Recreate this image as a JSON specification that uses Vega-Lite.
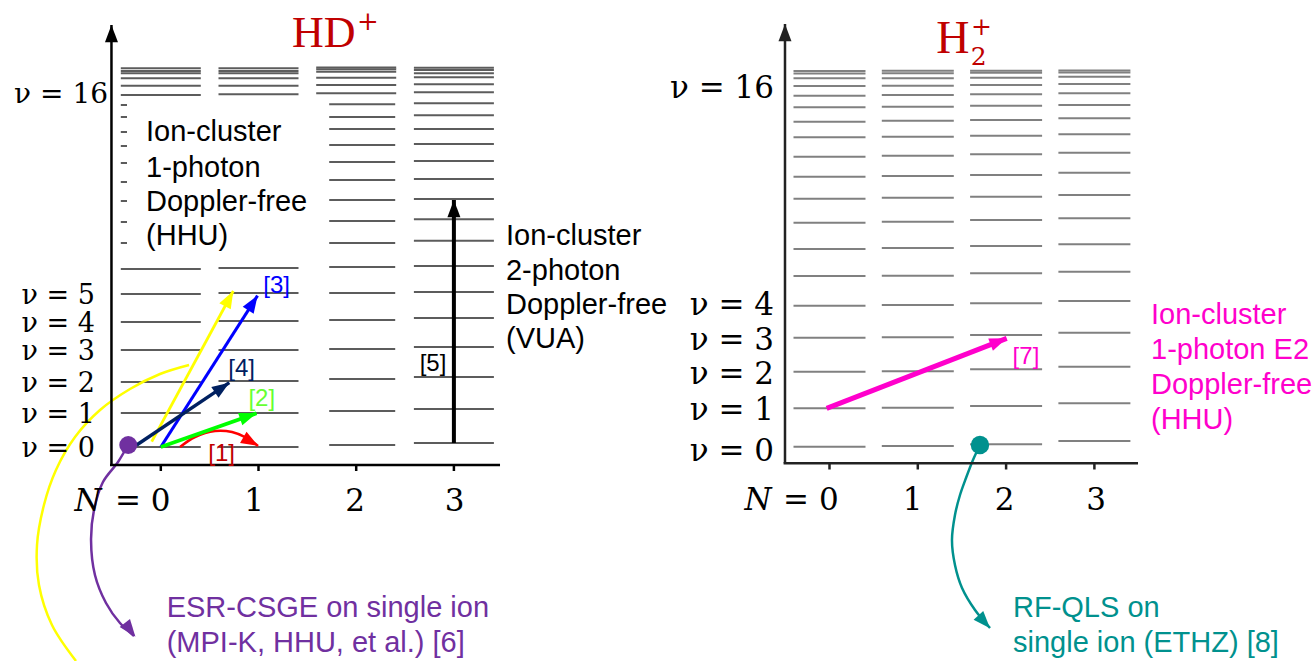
{
"$schema": "https://vega.github.io/schema/vega-lite/v6.json",
"background": "white",
"padding": 0,
"spacing": 0,
"bounds": "flush",
"config": {"view": {"stroke": null}, "axis": {"disable": true}},
"datasets": {
"hd_levels": [
{"N":0,"v":0,"E":0},{"N":0,"v":1,"E":3.4},{"N":0,"v":2,"E":6.5},{"N":0,"v":3,"E":9.7},{"N":0,"v":4,"E":12.5},{"N":0,"v":5,"E":15.3},{"N":0,"v":6,"E":17.8},{"N":0,"v":7,"E":20.4},{"N":0,"v":8,"E":22.5},{"N":0,"v":9,"E":24.6},{"N":0,"v":10,"E":26.5},{"N":0,"v":11,"E":28.4},{"N":0,"v":12,"E":30.1},{"N":0,"v":13,"E":31.5},{"N":0,"v":14,"E":33.0},{"N":0,"v":15,"E":34.2},{"N":0,"v":16,"E":35.2},{"N":0,"v":17,"E":36.13},{"N":0,"v":18,"E":36.87},{"N":0,"v":19,"E":37.37},{"N":0,"v":20,"E":37.6},{"N":0,"v":21,"E":37.87},
{"N":1,"v":0,"E":0},{"N":1,"v":1,"E":3.4},{"N":1,"v":2,"E":6.6},{"N":1,"v":3,"E":9.7},{"N":1,"v":4,"E":12.6},{"N":1,"v":5,"E":15.4},{"N":1,"v":6,"E":17.9},{"N":1,"v":7,"E":20.5},{"N":1,"v":8,"E":22.6},{"N":1,"v":9,"E":24.7},{"N":1,"v":10,"E":26.6},{"N":1,"v":11,"E":28.5},{"N":1,"v":12,"E":30.2},{"N":1,"v":13,"E":31.6},{"N":1,"v":14,"E":33.1},{"N":1,"v":15,"E":34.3},{"N":1,"v":16,"E":35.27},{"N":1,"v":17,"E":36.13},{"N":1,"v":18,"E":36.87},{"N":1,"v":19,"E":37.37},{"N":1,"v":20,"E":37.6},{"N":1,"v":21,"E":37.87},
{"N":2,"v":0,"E":0.2},{"N":2,"v":1,"E":3.6},{"N":2,"v":2,"E":6.8},{"N":2,"v":3,"E":9.8},{"N":2,"v":4,"E":12.7},{"N":2,"v":5,"E":15.4},{"N":2,"v":6,"E":18.0},{"N":2,"v":7,"E":20.4},{"N":2,"v":8,"E":22.6},{"N":2,"v":9,"E":24.7},{"N":2,"v":10,"E":26.7},{"N":2,"v":11,"E":28.5},{"N":2,"v":12,"E":30.2},{"N":2,"v":13,"E":31.8},{"N":2,"v":14,"E":33.0},{"N":2,"v":15,"E":34.27},{"N":2,"v":16,"E":35.37},{"N":2,"v":17,"E":36.2},{"N":2,"v":18,"E":36.93},{"N":2,"v":19,"E":37.53},{"N":2,"v":20,"E":37.77},{"N":2,"v":21,"E":37.95},
{"N":3,"v":0,"E":0.4},{"N":3,"v":1,"E":3.8},{"N":3,"v":2,"E":7.0},{"N":3,"v":3,"E":10.0},{"N":3,"v":4,"E":12.9},{"N":3,"v":5,"E":15.5},{"N":3,"v":6,"E":18.1},{"N":3,"v":7,"E":20.63},{"N":3,"v":8,"E":22.77},{"N":3,"v":9,"E":24.8},{"N":3,"v":10,"E":26.8},{"N":3,"v":11,"E":28.6},{"N":3,"v":12,"E":30.3},{"N":3,"v":13,"E":31.8},{"N":3,"v":14,"E":33.17},{"N":3,"v":15,"E":34.37},{"N":3,"v":16,"E":35.47},{"N":3,"v":17,"E":36.27},{"N":3,"v":18,"E":36.97},{"N":3,"v":19,"E":37.37},{"N":3,"v":20,"E":37.7},{"N":3,"v":21,"E":37.93}
],
"h2_levels": [
{"N":0,"v":0,"E":0.03},{"N":0,"v":1,"E":3.87},{"N":0,"v":2,"E":7.53},{"N":0,"v":3,"E":10.93},{"N":0,"v":4,"E":14.13},{"N":0,"v":5,"E":17.1},{"N":0,"v":6,"E":19.8},{"N":0,"v":7,"E":22.43},{"N":0,"v":8,"E":24.83},{"N":0,"v":9,"E":27.03},{"N":0,"v":10,"E":29.03},{"N":0,"v":11,"E":30.97},{"N":0,"v":12,"E":32.53},{"N":0,"v":13,"E":33.97},{"N":0,"v":14,"E":35.13},{"N":0,"v":15,"E":36.1},{"N":0,"v":16,"E":36.87},{"N":0,"v":17,"E":37.35},{"N":0,"v":18,"E":37.6},
{"N":1,"v":0,"E":0.1},{"N":1,"v":1,"E":3.93},{"N":1,"v":2,"E":7.57},{"N":1,"v":3,"E":10.97},{"N":1,"v":4,"E":14.2},{"N":1,"v":5,"E":17.13},{"N":1,"v":6,"E":19.9},{"N":1,"v":7,"E":22.53},{"N":1,"v":8,"E":24.93},{"N":1,"v":9,"E":27.1},{"N":1,"v":10,"E":29.13},{"N":1,"v":11,"E":31.03},{"N":1,"v":12,"E":32.63},{"N":1,"v":13,"E":34.03},{"N":1,"v":14,"E":35.2},{"N":1,"v":15,"E":36.13},{"N":1,"v":16,"E":36.87},{"N":1,"v":17,"E":37.37},{"N":1,"v":18,"E":37.63},
{"N":2,"v":0,"E":0.27},{"N":2,"v":1,"E":4.1},{"N":2,"v":2,"E":7.77},{"N":2,"v":3,"E":11.2},{"N":2,"v":4,"E":14.37},{"N":2,"v":5,"E":17.37},{"N":2,"v":6,"E":20.1},{"N":2,"v":7,"E":22.7},{"N":2,"v":8,"E":25.03},{"N":2,"v":9,"E":27.2},{"N":2,"v":10,"E":29.27},{"N":2,"v":11,"E":31.13},{"N":2,"v":12,"E":32.7},{"N":2,"v":13,"E":34.13},{"N":2,"v":14,"E":35.27},{"N":2,"v":15,"E":36.2},{"N":2,"v":16,"E":36.93},{"N":2,"v":17,"E":37.43},{"N":2,"v":18,"E":37.63},
{"N":3,"v":0,"E":0.6},{"N":3,"v":1,"E":4.37},{"N":3,"v":2,"E":8.03},{"N":3,"v":3,"E":11.43},{"N":3,"v":4,"E":14.6},{"N":3,"v":5,"E":17.53},{"N":3,"v":6,"E":20.27},{"N":3,"v":7,"E":22.87},{"N":3,"v":8,"E":25.2},{"N":3,"v":9,"E":27.43},{"N":3,"v":10,"E":29.43},{"N":3,"v":11,"E":31.27},{"N":3,"v":12,"E":32.87},{"N":3,"v":13,"E":34.2},{"N":3,"v":14,"E":35.37},{"N":3,"v":15,"E":36.3},{"N":3,"v":16,"E":37.03},{"N":3,"v":17,"E":37.45},{"N":3,"v":18,"E":37.65}
],
"hd_arrows": [
{"ref":"axis","x":-0.505,"y":-1.8,"x2":-0.505,"y2":42.2,"line":true,"head":true},
{"ref":"axis","x":-0.52,"y":-1.8,"x2":3.472,"y2":-1.8,"line":true,"head":false},
{"ref":"axis","x":0,"y":-1.8,"x2":0,"y2":-2.4,"line":true,"head":false},
{"ref":"axis","x":1,"y":-1.8,"x2":1,"y2":-2.4,"line":true,"head":false},
{"ref":"axis","x":2,"y":-1.8,"x2":2,"y2":-2.4,"line":true,"head":false},
{"ref":"axis","x":3,"y":-1.8,"x2":3,"y2":-2.4,"line":true,"head":false},
{"ref":"y","x":-0.093,"y":0.53,"x2":0.742,"y2":15.6,"line":true,"head":true},
{"ref":"3","x":0.0,"y":0.0,"x2":0.99,"y2":15.13,"line":true,"head":true},
{"ref":"4","x":-0.247,"y":0.2,"x2":0.701,"y2":6.43,"line":true,"head":true},
{"ref":"2","x":0.0,"y":0.0,"x2":0.98,"y2":3.37,"line":true,"head":true},
{"ref":"5","x":3.0,"y":0.4,"x2":3.0,"y2":24.7,"line":true,"head":true},
{"ref":"1","x":0.909,"y":0.6,"x2":0.998,"y2":0.1,"line":false,"head":true},
{"ref":"6","x":-0.368,"y":-17.6,"x2":-0.26,"y2":-18.97,"line":false,"head":true}
],
"hd_curves": [
{"ref":"1","o":0,"x":0.197,"y":0},{"ref":"1","o":1,"x":0.35,"y":1.0},{"ref":"1","o":2,"x":0.555,"y":1.6},{"ref":"1","o":3,"x":0.729,"y":1.5},{"ref":"1","o":4,"x":0.882,"y":0.9},{"ref":"1","o":5,"x":0.995,"y":0.1},
{"ref":"y","o":0,"x":0.289,"y":8.2},{"ref":"y","o":1,"x":-0.008,"y":7.3},{"ref":"y","o":2,"x":-0.315,"y":5.8},{"ref":"y","o":3,"x":-0.622,"y":3.7},{"ref":"y","o":4,"x":-0.878,"y":1.0},{"ref":"y","o":5,"x":-1.073,"y":-2.3},{"ref":"y","o":6,"x":-1.196,"y":-5.8},{"ref":"y","o":7,"x":-1.267,"y":-9.8},{"ref":"y","o":8,"x":-1.247,"y":-13.8},{"ref":"y","o":9,"x":-1.114,"y":-17.8},{"ref":"y","o":10,"x":-0.868,"y":-21.4},
{"ref":"6","o":0,"x":-0.336,"y":0.2},{"ref":"6","o":1,"x":-0.438,"y":-1.5},{"ref":"6","o":2,"x":-0.592,"y":-3.5},{"ref":"6","o":3,"x":-0.684,"y":-6.3},{"ref":"6","o":4,"x":-0.714,"y":-9.3},{"ref":"6","o":5,"x":-0.674,"y":-12.8},{"ref":"6","o":6,"x":-0.561,"y":-15.6},{"ref":"6","o":7,"x":-0.418,"y":-17.6},{"ref":"6","o":8,"x":-0.274,"y":-18.9}
],
"hd_text": [
{"t":"Ion-cluster","g":"k","x":-0.151,"y":31.5},
{"t":"1-photon","g":"k","x":-0.151,"y":27.9},
{"t":"Doppler-free","g":"k","x":-0.151,"y":24.5},
{"t":"(HHU)","g":"k","x":-0.151,"y":21.1},
{"t":"Ion-cluster","g":"k","x":3.533,"y":21.1},
{"t":"2-photon","g":"k","x":3.533,"y":17.6},
{"t":"Doppler-free","g":"k","x":3.533,"y":14.2},
{"t":"(VUA)","g":"k","x":3.533,"y":10.8},
{"t":"ESR-CSGE on single ion","g":"p","x":0.06,"y":-16.1},
{"t":"(MPI-K, HHU, et al.) [6]","g":"p","x":0.06,"y":-19.6}
],
"hd_refs": [
{"t":"[1]","ref":"1","x":0.623,"y":-0.7},
{"t":"[2]","ref":"2","x":1.033,"y":4.85},
{"t":"[3]","ref":"3","x":1.186,"y":16.15},
{"t":"[4]","ref":"4","x":0.828,"y":7.85},
{"t":"[5]","ref":"5","x":2.786,"y":8.35}
],
"hd_serif": [
{"k":"v16","t":"ν = 16","x":-0.54,"y":35.2},
{"k":"v","t":"ν = 5","x":-0.674,"y":15.1},
{"k":"v","t":"ν = 4","x":-0.674,"y":12.3},
{"k":"v","t":"ν = 3","x":-0.674,"y":9.5},
{"k":"v","t":"ν = 2","x":-0.674,"y":6.3},
{"k":"v","t":"ν = 1","x":-0.674,"y":3.2},
{"k":"v","t":"ν = 0","x":-0.674,"y":-0.2},
{"k":"Ni","t":"N","x":-0.745,"y":-5.5},
{"k":"Nd","t":"=","x":-0.336,"y":-5.5},
{"k":"Nd","t":"0","x":-0.003,"y":-5.5},
{"k":"Nd","t":"1","x":0.954,"y":-5.5},
{"k":"Nd","t":"2","x":1.988,"y":-5.5},
{"k":"Nd","t":"3","x":3.006,"y":-5.5},
{"k":"T","t":"HD","x":1.343,"y":40.0},
{"k":"Tp","t":"+","x":2.12,"y":42.5}
],
"h2_arrows": [
{"ref":"axis","x":-0.504,"y":-1.63,"x2":-0.504,"y2":42.3,"line":true,"head":true},
{"ref":"axis","x":-0.52,"y":-1.63,"x2":3.494,"y2":-1.63,"line":true,"head":false},
{"ref":"axis","x":0,"y":-1.63,"x2":0,"y2":-2.25,"line":true,"head":false},
{"ref":"axis","x":1,"y":-1.63,"x2":1,"y2":-2.25,"line":true,"head":false},
{"ref":"axis","x":2,"y":-1.63,"x2":2,"y2":-2.25,"line":true,"head":false},
{"ref":"axis","x":3,"y":-1.63,"x2":3,"y2":-2.25,"line":true,"head":false},
{"ref":"7","x":-0.032,"y":3.87,"x2":2.007,"y2":10.87,"line":true,"head":true},
{"ref":"8","x":1.682,"y":-16.8,"x2":1.818,"y2":-18.13,"line":false,"head":true}
],
"h2_curves": [
{"ref":"8","o":0,"x":1.704,"y":0.2},{"ref":"8","o":1,"x":1.625,"y":-1.3},{"ref":"8","o":2,"x":1.546,"y":-3.1},{"ref":"8","o":3,"x":1.478,"y":-4.8},{"ref":"8","o":4,"x":1.421,"y":-6.8},{"ref":"8","o":5,"x":1.387,"y":-9.3},{"ref":"8","o":6,"x":1.421,"y":-11.8},{"ref":"8","o":7,"x":1.501,"y":-14.1},{"ref":"8","o":8,"x":1.648,"y":-16.3},{"ref":"8","o":9,"x":1.818,"y":-18.1}
],
"h2_text": [
{"t":"Ion-cluster","g":"m","x":3.641,"y":13.2},
{"t":"1-photon E2","g":"m","x":3.641,"y":9.7},
{"t":"Doppler-free","g":"m","x":3.641,"y":6.2},
{"t":"(HHU)","g":"m","x":3.641,"y":2.7},
{"t":"RF-QLS on","g":"t","x":2.078,"y":-16.1},
{"t":"single ion (ETHZ) [8]","g":"t","x":2.078,"y":-19.6}
],
"h2_serif": [
{"k":"v","t":"ν = 16","x":-0.629,"y":35.8},
{"k":"v","t":"ν = 4","x":-0.629,"y":14.1},
{"k":"v","t":"ν = 3","x":-0.629,"y":10.6},
{"k":"v","t":"ν = 2","x":-0.629,"y":7.2},
{"k":"v","t":"ν = 1","x":-0.629,"y":3.6},
{"k":"v","t":"ν = 0","x":-0.629,"y":-0.5},
{"k":"Ni","t":"N","x":-0.81,"y":-5.35},
{"k":"Nd","t":"=","x":-0.379,"y":-5.35},
{"k":"Nd","t":"0","x":-0.006,"y":-5.35},
{"k":"Nd","t":"1","x":0.94,"y":-5.35},
{"k":"Nd","t":"2","x":1.982,"y":-5.35},
{"k":"Nd","t":"3","x":3.018,"y":-5.35},
{"k":"T","t":"H","x":1.21,"y":39.4},
{"k":"Ts","t":"2","x":1.69,"y":39.0},
{"k":"Tp","t":"+","x":1.721,"y":42.0}
]
},
"hconcat": [
{
"width": 656, "height": 661,
"resolve": {"scale": {"color": "independent", "strokeWidth": "independent"}},
"layer": [
{"data": {"name": "hd_levels"}, "transform": [{"filter": "datum.N != 2 || datum.v >= 16"}],
 "mark": {"type": "tick", "orient": "horizontal", "size": 80, "thickness": 2, "color": "#5c5c5c", "opacity": 1},
 "encoding": {"x": {"field": "N", "type": "quantitative", "scale": {"domain": [-1.6459, 5.0686], "nice": false, "zero": false}},
  "y": {"field": "E", "type": "quantitative", "scale": {"domain": [-21.4, 44.7], "nice": false, "zero": false}}}},
{"data": {"name": "hd_levels"}, "transform": [{"filter": "datum.N == 2 && datum.v < 16"}],
 "mark": {"type": "tick", "orient": "horizontal", "size": 66, "thickness": 2, "xOffset": 6, "color": "#5c5c5c", "opacity": 1},
 "encoding": {"x": {"field": "N", "type": "quantitative", "scale": {"domain": [-1.6459, 5.0686], "nice": false, "zero": false}},
  "y": {"field": "E", "type": "quantitative", "scale": {"domain": [-21.4, 44.7], "nice": false, "zero": false}}}},
{"data": {"values": [{}]},
 "mark": {"type": "rect", "color": "white", "opacity": 1},
 "encoding": {"x": {"datum": -0.346, "type": "quantitative", "scale": {"domain": [-1.6459, 5.0686], "nice": false, "zero": false}}, "x2": {"datum": 1.547},
  "y": {"datum": 34.8, "type": "quantitative", "scale": {"domain": [-21.4, 44.7], "nice": false, "zero": false}}, "y2": {"datum": 18.9}}},
{"data": {"name": "hd_curves"},
 "mark": {"type": "line", "interpolate": "catmull-rom", "clip": true},
 "encoding": {"x": {"field": "x", "type": "quantitative", "scale": {"domain": [-1.6459, 5.0686], "nice": false, "zero": false}},
  "y": {"field": "y", "type": "quantitative", "scale": {"domain": [-21.4, 44.7], "nice": false, "zero": false}},
  "order": {"field": "o", "type": "quantitative"},
  "color": {"field": "ref", "type": "nominal", "legend": null, "scale": {"domain": ["1", "y", "6"], "range": ["#ff0000", "#ffff00", "#7030a0"]}},
  "strokeWidth": {"field": "ref", "type": "nominal", "legend": null, "scale": {"domain": ["1", "y", "6"], "range": [2.5, 2.5, 2.5]}}}},
{"data": {"name": "hd_arrows"}, "transform": [{"filter": "datum.line"}],
 "mark": {"type": "rule"},
 "encoding": {"x": {"field": "x", "type": "quantitative", "scale": {"domain": [-1.6459, 5.0686], "nice": false, "zero": false}},
  "y": {"field": "y", "type": "quantitative", "scale": {"domain": [-21.4, 44.7], "nice": false, "zero": false}},
  "x2": {"field": "x2"}, "y2": {"field": "y2"},
  "color": {"field": "ref", "type": "nominal", "legend": null, "scale": {"domain": ["axis", "y", "3", "4", "2", "5"], "range": ["#000000", "#ffff00", "#0000ff", "#002060", "#00ff00", "#000000"]}},
  "strokeWidth": {"field": "ref", "type": "nominal", "legend": null, "scale": {"domain": ["axis", "y", "3", "4", "2", "5"], "range": [2.5, 4, 2.5, 3.5, 2.5, 2]}}}},
{"data": {"name": "hd_arrows"}, "transform": [{"filter": "datum.head"}, {"calculate": "atan2((datum.x2-datum.x)*97.7, (datum.y2-datum.y)*10)*180/PI", "as": "ang"}],
 "mark": {"type": "point", "shape": "M0,0L0.75,2L-0.75,2Z", "filled": true, "opacity": 1, "size": 300, "strokeWidth": 0},
 "encoding": {"x": {"field": "x2", "type": "quantitative", "scale": {"domain": [-1.6459, 5.0686], "nice": false, "zero": false}},
  "y": {"field": "y2", "type": "quantitative", "scale": {"domain": [-21.4, 44.7], "nice": false, "zero": false}},
  "angle": {"field": "ang", "type": "quantitative", "scale": null},
  "color": {"field": "ref", "type": "nominal", "legend": null, "scale": {"domain": ["axis", "y", "3", "4", "2", "5", "1", "6"], "range": ["#000000", "#ffff00", "#0000ff", "#002060", "#00ff00", "#000000", "#ff0000", "#7030a0"]}}}},
{"data": {"values": [{"ref": "6", "x": -0.333, "y": 0.2}]},
 "mark": {"type": "circle", "size": 324, "opacity": 1, "color": "#7030a0"},
 "encoding": {"x": {"field": "x", "type": "quantitative", "scale": {"domain": [-1.6459, 5.0686], "nice": false, "zero": false}},
  "y": {"field": "y", "type": "quantitative", "scale": {"domain": [-21.4, 44.7], "nice": false, "zero": false}}}},
{"data": {"name": "hd_text"},
 "mark": {"type": "text", "font": "Liberation Sans", "fontSize": 29, "align": "left", "baseline": "middle"},
 "encoding": {"x": {"field": "x", "type": "quantitative", "scale": {"domain": [-1.6459, 5.0686], "nice": false, "zero": false}},
  "y": {"field": "y", "type": "quantitative", "scale": {"domain": [-21.4, 44.7], "nice": false, "zero": false}},
  "text": {"field": "t"},
  "color": {"field": "g", "type": "nominal", "legend": null, "scale": {"domain": ["k", "p"], "range": ["#000000", "#7030a0"]}}}},
{"data": {"name": "hd_refs"},
 "mark": {"type": "text", "font": "Liberation Sans", "fontSize": 24, "align": "center", "baseline": "middle"},
 "encoding": {"x": {"field": "x", "type": "quantitative", "scale": {"domain": [-1.6459, 5.0686], "nice": false, "zero": false}},
  "y": {"field": "y", "type": "quantitative", "scale": {"domain": [-21.4, 44.7], "nice": false, "zero": false}},
  "text": {"field": "t"},
  "color": {"field": "ref", "type": "nominal", "legend": null, "scale": {"domain": ["1", "2", "3", "4", "5"], "range": ["#c00000", "#66ff33", "#0000ff", "#002060", "#000000"]}}}},
{"data": {"name": "hd_serif"}, "transform": [{"filter": "datum.k == 'v'"}],
 "mark": {"type": "text", "font": "DejaVu Serif", "fontSize": 27, "align": "right", "baseline": "middle", "color": "#000000"},
 "encoding": {"x": {"field": "x", "type": "quantitative", "scale": {"domain": [-1.6459, 5.0686], "nice": false, "zero": false}},
  "y": {"field": "y", "type": "quantitative", "scale": {"domain": [-21.4, 44.7], "nice": false, "zero": false}},
  "text": {"field": "t"}}},
{"data": {"name": "hd_serif"}, "transform": [{"filter": "datum.k == 'v16'"}],
 "mark": {"type": "text", "font": "DejaVu Serif", "fontSize": 28, "align": "right", "baseline": "middle", "color": "#000000"},
 "encoding": {"x": {"field": "x", "type": "quantitative", "scale": {"domain": [-1.6459, 5.0686], "nice": false, "zero": false}},
  "y": {"field": "y", "type": "quantitative", "scale": {"domain": [-21.4, 44.7], "nice": false, "zero": false}},
  "text": {"field": "t"}}},
{"data": {"name": "hd_serif"}, "transform": [{"filter": "datum.k == 'Ni'"}],
 "mark": {"type": "text", "font": "DejaVu Serif", "fontSize": 31, "fontStyle": "italic", "align": "center", "baseline": "middle", "color": "#000000"},
 "encoding": {"x": {"field": "x", "type": "quantitative", "scale": {"domain": [-1.6459, 5.0686], "nice": false, "zero": false}},
  "y": {"field": "y", "type": "quantitative", "scale": {"domain": [-21.4, 44.7], "nice": false, "zero": false}},
  "text": {"field": "t"}}},
{"data": {"name": "hd_serif"}, "transform": [{"filter": "datum.k == 'Nd'"}],
 "mark": {"type": "text", "font": "DejaVu Serif", "fontSize": 31, "align": "center", "baseline": "middle", "color": "#000000"},
 "encoding": {"x": {"field": "x", "type": "quantitative", "scale": {"domain": [-1.6459, 5.0686], "nice": false, "zero": false}},
  "y": {"field": "y", "type": "quantitative", "scale": {"domain": [-21.4, 44.7], "nice": false, "zero": false}},
  "text": {"field": "t"}}},
{"data": {"name": "hd_serif"}, "transform": [{"filter": "datum.k == 'T'"}],
 "mark": {"type": "text", "font": "Liberation Serif", "fontSize": 44, "align": "left", "baseline": "alphabetic", "color": "#c00000"},
 "encoding": {"x": {"field": "x", "type": "quantitative", "scale": {"domain": [-1.6459, 5.0686], "nice": false, "zero": false}},
  "y": {"field": "y", "type": "quantitative", "scale": {"domain": [-21.4, 44.7], "nice": false, "zero": false}},
  "text": {"field": "t"}}},
{"data": {"name": "hd_serif"}, "transform": [{"filter": "datum.k == 'Tp'"}],
 "mark": {"type": "text", "font": "DejaVu Serif", "fontSize": 26, "align": "center", "baseline": "middle", "color": "#c00000"},
 "encoding": {"x": {"field": "x", "type": "quantitative", "scale": {"domain": [-1.6459, 5.0686], "nice": false, "zero": false}},
  "y": {"field": "y", "type": "quantitative", "scale": {"domain": [-21.4, 44.7], "nice": false, "zero": false}},
  "text": {"field": "t"}}}
]
},
{
"width": 657, "height": 661,
"resolve": {"scale": {"color": "independent", "strokeWidth": "independent"}},
"layer": [
{"data": {"name": "h2_levels"},
 "mark": {"type": "tick", "orient": "horizontal", "size": 72, "thickness": 2, "color": "#808080", "opacity": 1},
 "encoding": {"x": {"field": "N", "type": "quantitative", "scale": {"domain": [-1.9649, 5.4757], "nice": false, "zero": false}},
  "y": {"field": "E", "type": "quantitative", "scale": {"domain": [-21.4, 44.7], "nice": false, "zero": false}}}},
{"data": {"name": "h2_curves"},
 "mark": {"type": "line", "interpolate": "catmull-rom", "clip": true, "strokeWidth": 2.5, "color": "#00918e"},
 "encoding": {"x": {"field": "x", "type": "quantitative", "scale": {"domain": [-1.9649, 5.4757], "nice": false, "zero": false}},
  "y": {"field": "y", "type": "quantitative", "scale": {"domain": [-21.4, 44.7], "nice": false, "zero": false}},
  "order": {"field": "o", "type": "quantitative"}}},
{"data": {"name": "h2_arrows"}, "transform": [{"filter": "datum.line"}],
 "mark": {"type": "rule"},
 "encoding": {"x": {"field": "x", "type": "quantitative", "scale": {"domain": [-1.9649, 5.4757], "nice": false, "zero": false}},
  "y": {"field": "y", "type": "quantitative", "scale": {"domain": [-21.4, 44.7], "nice": false, "zero": false}},
  "x2": {"field": "x2"}, "y2": {"field": "y2"},
  "color": {"field": "ref", "type": "nominal", "legend": null, "scale": {"domain": ["axis", "7"], "range": ["#222222", "#ff00cc"]}},
  "strokeWidth": {"field": "ref", "type": "nominal", "legend": null, "scale": {"domain": ["axis", "7"], "range": [2.5, 5]}}}},
{"data": {"name": "h2_arrows"}, "transform": [{"filter": "datum.head"}, {"calculate": "atan2((datum.x2-datum.x)*88.3, (datum.y2-datum.y)*10)*180/PI", "as": "ang"}],
 "mark": {"type": "point", "shape": "M0,0L0.75,2L-0.75,2Z", "filled": true, "opacity": 1, "size": 300, "strokeWidth": 0},
 "encoding": {"x": {"field": "x2", "type": "quantitative", "scale": {"domain": [-1.9649, 5.4757], "nice": false, "zero": false}},
  "y": {"field": "y2", "type": "quantitative", "scale": {"domain": [-21.4, 44.7], "nice": false, "zero": false}},
  "angle": {"field": "ang", "type": "quantitative", "scale": null},
  "color": {"field": "ref", "type": "nominal", "legend": null, "scale": {"domain": ["axis", "7", "8"], "range": ["#222222", "#ff00cc", "#00918e"]}}}},
{"data": {"values": [{"ref": "8", "x": 1.704, "y": 0.2}]},
 "mark": {"type": "circle", "size": 340, "opacity": 1, "color": "#00918e"},
 "encoding": {"x": {"field": "x", "type": "quantitative", "scale": {"domain": [-1.9649, 5.4757], "nice": false, "zero": false}},
  "y": {"field": "y", "type": "quantitative", "scale": {"domain": [-21.4, 44.7], "nice": false, "zero": false}}}},
{"data": {"name": "h2_text"},
 "mark": {"type": "text", "font": "Liberation Sans", "fontSize": 29, "align": "left", "baseline": "middle", "clip": true},
 "encoding": {"x": {"field": "x", "type": "quantitative", "scale": {"domain": [-1.9649, 5.4757], "nice": false, "zero": false}},
  "y": {"field": "y", "type": "quantitative", "scale": {"domain": [-21.4, 44.7], "nice": false, "zero": false}},
  "text": {"field": "t"},
  "color": {"field": "g", "type": "nominal", "legend": null, "scale": {"domain": ["m", "t"], "range": ["#ff00cc", "#00918e"]}}}},
{"data": {"values": [{"t": "[7]", "x": 2.225, "y": 9.03}]},
 "mark": {"type": "text", "font": "Liberation Sans", "fontSize": 24, "align": "center", "baseline": "middle", "color": "#ff00cc"},
 "encoding": {"x": {"field": "x", "type": "quantitative", "scale": {"domain": [-1.9649, 5.4757], "nice": false, "zero": false}},
  "y": {"field": "y", "type": "quantitative", "scale": {"domain": [-21.4, 44.7], "nice": false, "zero": false}},
  "text": {"field": "t"}}},
{"data": {"name": "h2_serif"}, "transform": [{"filter": "datum.k == 'v'"}],
 "mark": {"type": "text", "font": "DejaVu Serif", "fontSize": 31, "align": "right", "baseline": "middle", "color": "#000000"},
 "encoding": {"x": {"field": "x", "type": "quantitative", "scale": {"domain": [-1.9649, 5.4757], "nice": false, "zero": false}},
  "y": {"field": "y", "type": "quantitative", "scale": {"domain": [-21.4, 44.7], "nice": false, "zero": false}},
  "text": {"field": "t"}}},
{"data": {"name": "h2_serif"}, "transform": [{"filter": "datum.k == 'Ni'"}],
 "mark": {"type": "text", "font": "DejaVu Serif", "fontSize": 31, "fontStyle": "italic", "align": "center", "baseline": "middle", "color": "#000000"},
 "encoding": {"x": {"field": "x", "type": "quantitative", "scale": {"domain": [-1.9649, 5.4757], "nice": false, "zero": false}},
  "y": {"field": "y", "type": "quantitative", "scale": {"domain": [-21.4, 44.7], "nice": false, "zero": false}},
  "text": {"field": "t"}}},
{"data": {"name": "h2_serif"}, "transform": [{"filter": "datum.k == 'Nd'"}],
 "mark": {"type": "text", "font": "DejaVu Serif", "fontSize": 31, "align": "center", "baseline": "middle", "color": "#000000"},
 "encoding": {"x": {"field": "x", "type": "quantitative", "scale": {"domain": [-1.9649, 5.4757], "nice": false, "zero": false}},
  "y": {"field": "y", "type": "quantitative", "scale": {"domain": [-21.4, 44.7], "nice": false, "zero": false}},
  "text": {"field": "t"}}},
{"data": {"name": "h2_serif"}, "transform": [{"filter": "datum.k == 'T'"}],
 "mark": {"type": "text", "font": "Liberation Serif", "fontSize": 46, "align": "left", "baseline": "alphabetic", "color": "#c00000"},
 "encoding": {"x": {"field": "x", "type": "quantitative", "scale": {"domain": [-1.9649, 5.4757], "nice": false, "zero": false}},
  "y": {"field": "y", "type": "quantitative", "scale": {"domain": [-21.4, 44.7], "nice": false, "zero": false}},
  "text": {"field": "t"}}},
{"data": {"name": "h2_serif"}, "transform": [{"filter": "datum.k == 'Ts'"}],
 "mark": {"type": "text", "font": "DejaVu Serif", "fontSize": 25, "align": "center", "baseline": "middle", "color": "#c00000"},
 "encoding": {"x": {"field": "x", "type": "quantitative", "scale": {"domain": [-1.9649, 5.4757], "nice": false, "zero": false}},
  "y": {"field": "y", "type": "quantitative", "scale": {"domain": [-21.4, 44.7], "nice": false, "zero": false}},
  "text": {"field": "t"}}},
{"data": {"name": "h2_serif"}, "transform": [{"filter": "datum.k == 'Tp'"}],
 "mark": {"type": "text", "font": "DejaVu Serif", "fontSize": 25, "align": "center", "baseline": "middle", "color": "#c00000"},
 "encoding": {"x": {"field": "x", "type": "quantitative", "scale": {"domain": [-1.9649, 5.4757], "nice": false, "zero": false}},
  "y": {"field": "y", "type": "quantitative", "scale": {"domain": [-21.4, 44.7], "nice": false, "zero": false}},
  "text": {"field": "t"}}}
]
}
]
}
